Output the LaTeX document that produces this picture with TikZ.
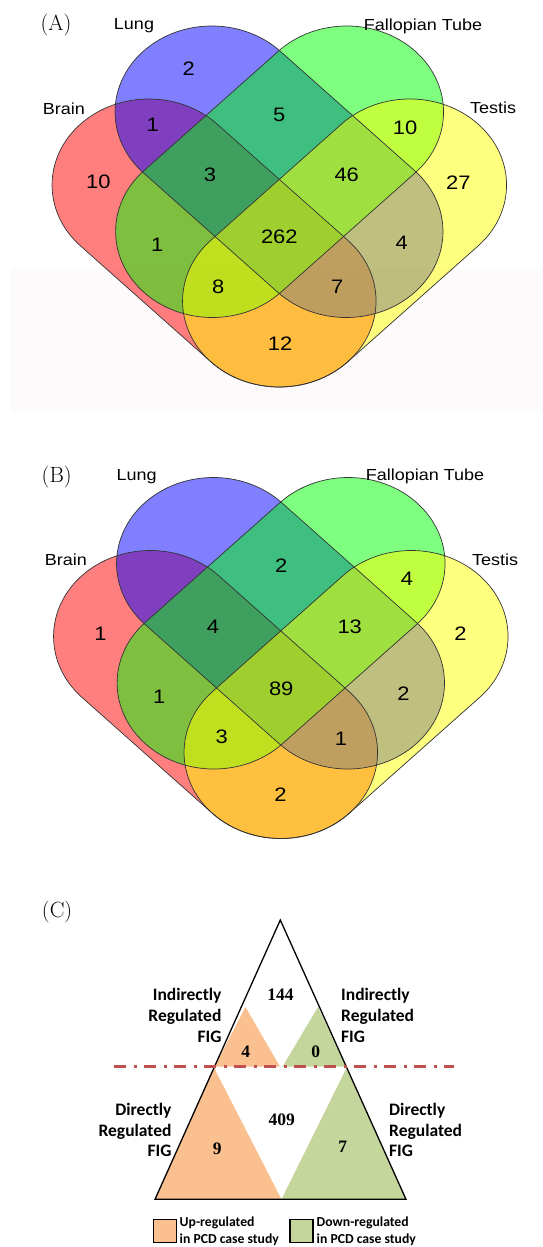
\documentclass[tikz,border=0pt]{standalone}
\usepackage{fontspec}
\newfontfamily\arialf{Liberation Sans}
\newfontfamily\calib{Carlito}
\newfontfamily\timesf{Liberation Serif}
\definecolor{vred}{rgb}{1,0,0}
\definecolor{vblue}{rgb}{0,0,1}
\definecolor{vgreen}{rgb}{0,1,0}
\definecolor{vyellow}{rgb}{1,1,0}
\definecolor{upor}{RGB}{250,192,144}
\definecolor{dngr}{RGB}{196,214,155}
\definecolor{dashred}{RGB}{192,80,77}
\definecolor{faint}{RGB}{253,250,251}
\newcommand\hs[1]{\scalebox{1.125}[1]{#1}}
\tikzset{
  setfill/.style={fill=#1, fill opacity=0.5},
  setline/.style={draw=black!80, line width=0.7pt},
  vlab/.style={font=\arialf\fontsize{16}{16}\selectfont, inner sep=0pt},
  vnum/.style={font=\arialf\fontsize{19.5}{19.5}\selectfont, inner sep=0pt},
  paneltag/.style={font=\fontsize{22}{22}\selectfont, inner sep=0pt},
  clab/.style={font=\calib\bfseries\fontsize{17.5}{20.8}\selectfont, inner sep=0pt},
  cnum/.style={font=\timesf\bfseries\fontsize{17.5}{17.5}\selectfont, inner sep=0pt},
  leglab/.style={font=\calib\bfseries\fontsize{13.7}{16.5}\selectfont, inner sep=0pt, align=left},
  region/.style={draw=none}
}
\newcommand\vennshapes{%
  \fill[setfill=vred] (-116,-185) ++(45:86) -- ++(116,-116) arc[start angle=45,end angle=-135,radius=86] -- ++(-116,116) arc[start angle=225,end angle=45,radius=86] -- cycle;
  \fill[setfill=vblue] (-60,-112) ++(45:86) -- ++(119.5,-119.5) arc[start angle=45,end angle=-135,radius=86] -- ++(-119.5,119.5) arc[start angle=225,end angle=45,radius=86] -- cycle;
  \fill[setfill=vgreen] (60,-112) ++(-45:86) -- ++(-119.5,-119.5) arc[start angle=-45,end angle=-225,radius=86] -- ++(119.5,119.5) arc[start angle=135,end angle=-45,radius=86] -- cycle;
  \fill[setfill=vyellow] (116,-185) ++(-45:86) -- ++(-116,-116) arc[start angle=-45,end angle=-225,radius=86] -- ++(116,116) arc[start angle=135,end angle=-45,radius=86] -- cycle;
  \draw[setline] (-116,-185) ++(45:86) -- ++(116,-116) arc[start angle=45,end angle=-135,radius=86] -- ++(-116,116) arc[start angle=225,end angle=45,radius=86] -- cycle;
  \draw[setline] (-60,-112) ++(45:86) -- ++(119.5,-119.5) arc[start angle=45,end angle=-135,radius=86] -- ++(-119.5,119.5) arc[start angle=225,end angle=45,radius=86] -- cycle;
  \draw[setline] (60,-112) ++(-45:86) -- ++(-119.5,-119.5) arc[start angle=-45,end angle=-225,radius=86] -- ++(119.5,119.5) arc[start angle=135,end angle=-45,radius=86] -- cycle;
  \draw[setline] (116,-185) ++(-45:86) -- ++(-116,-116) arc[start angle=-45,end angle=-225,radius=86] -- ++(116,116) arc[start angle=135,end angle=-45,radius=86] -- cycle;
}
\begin{document}
\begin{tikzpicture}[x=1pt,y=1pt]
\fill[white] (0,0) rectangle (543,-1247);
\useasboundingbox (0,0) rectangle (543,-1247);
\fill[faint] (10,-268) rectangle (543,-412);

% ---------- Panel A ----------
\begin{scope}[shift={(279.3,0)}, xscale=1.125]
  \vennshapes
\end{scope}
\node[paneltag] (tagA) at (56,-25) {(A)};
\node[vlab] (lungA) at (134,-26) {\hs{Lung}};
\node[vlab] (fallA) at (423,-26) {\hs{Fallopian Tube}};
\node[vlab] (brainA) at (64,-109) {\hs{Brain}};
\node[vlab] (testA) at (493,-108) {\hs{Testis}};
\node[vnum] (a1) at (188.7,-68.3) {\hs{2}};
\node[vnum] (a2) at (152.7,-125) {\hs{1}};
\node[vnum] (a3) at (279.3,-115) {\hs{5}};
\node[vnum] (a4) at (405,-127.3) {\hs{10}};
\node[vnum] (a5) at (98.3,-181.7) {\hs{10}};
\node[vnum] (a6) at (210,-175) {\hs{3}};
\node[vnum] (a7) at (346.7,-175) {\hs{46}};
\node[vnum] (a8) at (458.3,-182.7) {\hs{27}};
\node[vnum] (a9) at (157.3,-245) {\hs{1}};
\node[vnum] (a10) at (279.3,-236.7) {\hs{262}};
\node[vnum] (a11) at (401.7,-242.7) {\hs{4}};
\node[vnum] (a12) at (218.3,-286.7) {\hs{8}};
\node[vnum] (a13) at (337.3,-286.7) {\hs{7}};
\node[vnum] (a14) at (280,-343.3) {\hs{12}};

% ---------- Panel B ----------
\begin{scope}[shift={(280.8,-451.5)}, xscale=1.125]
  \vennshapes
\end{scope}
\node[paneltag] (tagB) at (56.7,-476.7) {(B)};
\node[vlab] (lungB) at (136.7,-476.5) {\hs{Lung}};
\node[vlab] (fallB) at (425,-476.5) {\hs{Fallopian Tube}};
\node[vlab] (brainB) at (65.8,-560) {\hs{Brain}};
\node[vlab] (testB) at (495,-560) {\hs{Testis}};
\node[vnum] (b1) at (281.2,-566) {\hs{2}};
\node[vnum] (b2) at (406.9,-578.3) {\hs{4}};
\node[vnum] (b3) at (100.4,-633.3) {\hs{1}};
\node[vnum] (b4) at (213,-626.7) {\hs{4}};
\node[vnum] (b5) at (349.7,-626.7) {\hs{13}};
\node[vnum] (b6) at (460.5,-633.3) {\hs{2}};
\node[vnum] (b7) at (159.3,-696.7) {\hs{1}};
\node[vnum] (b8) at (281.2,-688.3) {\hs{89}};
\node[vnum] (b9) at (403.4,-693.3) {\hs{2}};
\node[vnum] (b10) at (221.6,-736.7) {\hs{3}};
\node[vnum] (b11) at (341,-738.3) {\hs{1}};
\node[vnum] (b12) at (280.5,-795) {\hs{2}};

% ---------- Panel C ----------
\node[paneltag] (tagC) at (57.1,-911.7) {(C)};
\coordinate (apex) at (280.3,-920);
\coordinate (bl) at (155,-1199.3);
\coordinate (br) at (406,-1199.3);
\coordinate (bm) at (281.5,-1199.3);
\fill[upor, region] (245.5,-1007) -- (214.5,-1066.7) -- (280,-1066.7) -- cycle;
\fill[dngr, region] (318,-1007) -- (282.5,-1066.7) -- (346,-1066.7) -- cycle;
\fill[upor, region] (214.3,-1068.3) -- (bl) -- (bm) -- cycle;
\fill[dngr, region] (346.3,-1068.3) -- (bm) -- (br) -- cycle;
\draw[line width=1.3pt, line join=miter] (apex) -- (bl) -- (br) -- cycle;
\coordinate (dl) at (114.3,-1066.7);
\coordinate (dr) at (453.6,-1066.7);
\draw[dashred, line width=2.7pt, dash pattern=on 12pt off 7.5pt on 3pt off 7.5pt] (dl) -- (dr);

\node[cnum] (c144) at (280.5,-995) {144};
\node[cnum] (c4) at (245.8,-1051.7) {4};
\node[cnum] (c0) at (315.8,-1051.7) {0};
\node[cnum] (c409) at (281.7,-1120) {409};
\node[cnum] (c9) at (217.3,-1148.3) {9};
\node[cnum] (c7) at (342.7,-1146.7) {7};

\node[clab, anchor=east, align=right] (il) at (221.6,-1015.7) {Indirectly\\Regulated\\FIG};
\node[clab, anchor=west, align=left] (ir) at (341,-1015.7) {Indirectly\\Regulated\\FIG};
\node[clab, anchor=east, align=right] (dlab) at (171.7,-1130) {Directly\\Regulated\\FIG};
\node[clab, anchor=west, align=left] (drab) at (389,-1130) {Directly\\Regulated\\FIG};

\draw[fill=upor, line width=1.2pt] (153.3,-1219.3) rectangle (176.3,-1242.3);
\draw[fill=dngr, line width=1.2pt] (290,-1219.3) rectangle (313,-1242.3);
\node[leglab, anchor=west] (lu) at (179.5,-1231.5) {Up-regulated\\in PCD case study};
\node[leglab, anchor=west] (ld) at (316.5,-1231.5) {Down-regulated\\in PCD case study};
\end{tikzpicture}
\end{document}
